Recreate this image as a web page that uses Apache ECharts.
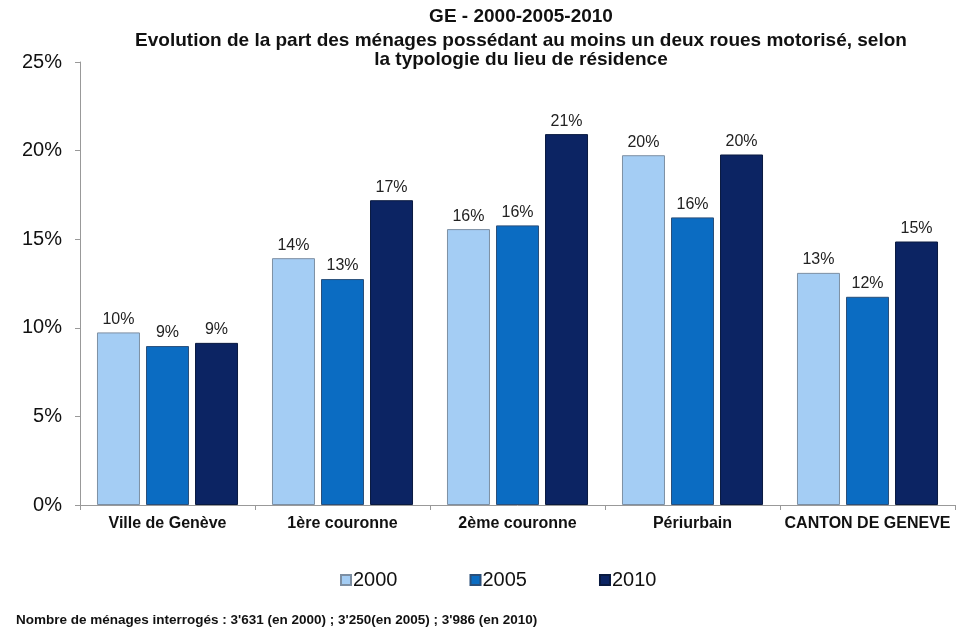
<!DOCTYPE html>
<html><head><meta charset="utf-8">
<script src="https://cdn.jsdelivr.net/npm/echarts@6/dist/echarts.min.js"></script>
<style>html,body{margin:0;padding:0;background:#fff}#c{width:961px;height:629px}</style>
</head><body><div id="c"></div>
<script>
const categories = ['Ville de Genève', '1ère couronne', '2ème couronne', 'Périurbain', 'CANTON DE GENEVE'];
const seriesNames = ['2000', '2005', '2010'];
const values2000 = [9.74, 13.93, 15.57, 19.74, 13.1];
const values2005 = [8.97, 12.75, 15.78, 16.23, 11.75];
const values2010 = [9.15, 17.2, 20.93, 19.78, 14.87];
const yTicks = [0, 5, 10, 15, 20, 25];

const colors = ['#a4cdf4', '#0b6cc2', '#0c2463'];
const borders = ['#7d8fa3', '#2a4f7a', '#0a1a40'];
const allValues = [values2000, values2005, values2010];

const titleStyle = {fontFamily: 'Liberation Sans', fontWeight: 'bold', fontSize: 19, lineHeight: 19, color: '#111'};
const chart = echarts.init(document.getElementById('c'));
chart.setOption({
  animation: false,
  backgroundColor: '#fff',
  title: [{
    text: 'GE - 2000-2005-2010',
    left: 521, top: 7, textAlign: 'center', padding: 0,
    textStyle: titleStyle
  }, {
    text: 'Evolution de la part des ménages possédant au moins un deux roues motorisé, selon\nla typologie du lieu de résidence',
    left: 521, top: 31, textAlign: 'center', padding: 0,
    textStyle: titleStyle
  }, {
    text: 'Nombre de ménages interrogés : 3\'631 (en 2000) ; 3\'250(en 2005) ; 3\'986 (en 2010)',
    left: 11, top: 608,
    textStyle: {fontFamily: 'Liberation Sans', fontWeight: 'bold', fontSize: 13.5, color: '#111'}
  }],
  legend: {
    data: seriesNames, left: 335, top: 565, itemWidth: 10, itemHeight: 10, itemGap: 72,
    icon: 'rect',
    textStyle: {fontFamily: 'Liberation Sans', fontSize: 20, color: '#111', padding: [0,0,0,-3]}
  },
  grid: {left: 80, right: 6, top: 62, bottom: 124, containLabel: false},
  xAxis: {
    type: 'category', data: categories,
    axisLine: {lineStyle: {color: '#999'}},
    axisTick: {show: true, length: 5, lineStyle: {color: '#999'}},
    axisLabel: {interval: 0, fontFamily: 'Liberation Sans', fontWeight: 'bold', fontSize: 16, color: '#111', margin: 11}
  },
  yAxis: {
    type: 'value', min: yTicks[0], max: yTicks[yTicks.length-1], interval: 5,
    axisLine: {show: true, lineStyle: {color: '#999'}},
    axisTick: {show: true, length: 5, lineStyle: {color: '#999'}},
    splitLine: {show: false},
    axisLabel: {fontFamily: 'Liberation Sans', fontSize: 20, color: '#111', margin: 18, formatter: v => v + '%'}
  },
  series: seriesNames.map((n, i) => ({
    name: n, type: 'bar', data: allValues[i], barWidth: 43, barGap: '14%',
    itemStyle: {color: colors[i], borderColor: borders[i], borderWidth: 1},
    label: {show: true, position: 'top', distance: 5, fontFamily: 'Liberation Sans', fontSize: 16, color: '#222',
      formatter: p => Math.round(p.value) + '%'}
  }))
});
</script></body></html>
